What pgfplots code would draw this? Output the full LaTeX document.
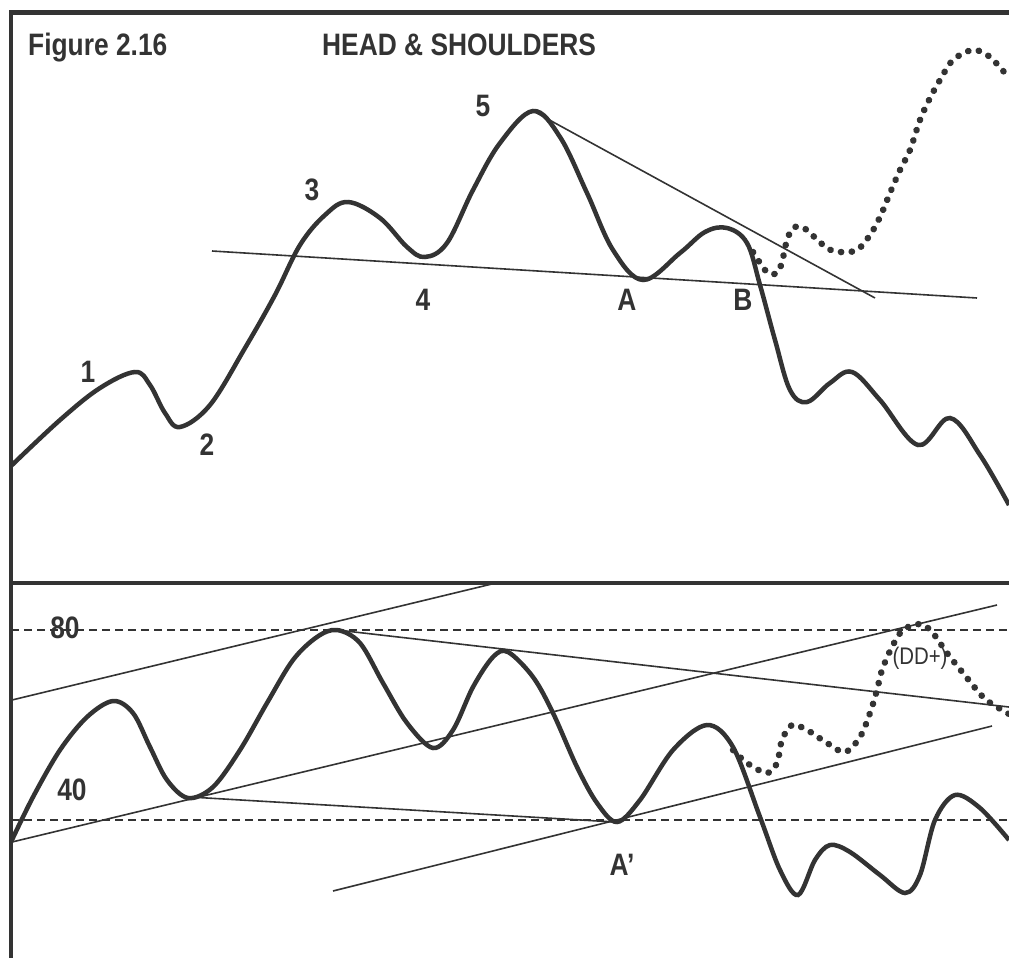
\documentclass[border=0pt]{standalone}
\usepackage{pgfplots}
\pgfplotsset{compat=1.18}
\usepackage{fontspec}
\setmainfont{Liberation Sans}
\newfontfamily\cond[FakeStretch=0.85]{Liberation Sans}
\definecolor{ink}{HTML}{333333}
\begin{document}
\begin{tikzpicture}
\begin{axis}[
  scale only axis, width=1009pt, height=958pt,
  xmin=0, xmax=1009, ymin=0, ymax=958, y dir=reverse,
  axis line style={draw=none}, ticks=none, clip=true,
  every axis plot/.append style={ink},
]
% frame
\addplot[line width=5pt] coordinates {(9,13) (1012,13)};
\addplot[line width=4pt] coordinates {(11,11) (11,962)};
\addplot[line width=4pt] coordinates {(11,583) (1012,583)};
% top panel: trend lines
\addplot[line width=1.6pt] coordinates {(212,251) (977,298)};
\addplot[line width=1.6pt] coordinates {(533,111) (875,298)};
% top panel: price curve
\addplot[line width=4.5pt, smooth, tension=0.6] coordinates {
(11,466) (60,420) (100,388) (135,372) (150,385) (165,413) (180,427)
(210,405) (245,348) (275,295) (300,245) (325,215) (348,202) (380,218) (407,247)
(425,257) (447,243) (473,190) (500,143) (533,111) (560,137) (587,193) (613,250) (643,280)
(680,253) (705,232) (727,228) (747,243) (760,285) (775,340) (790,390) (807,402) (830,383)
(852,372) (880,400) (918,445) (950,418) (980,455) (1009,505)};
% top panel: dotted alternative
\addplot[line width=6.5pt, line cap=round, dash pattern=on 0.3pt off 10.5pt, smooth, tension=0.55] coordinates {
(753,252) (760,263) (768,273) (777,273) (782,262) (787,240) (793,228) (802,227) (810,233)
(827,248) (840,252) (857,250) (870,235) (880,217) (890,193) (900,170) (910,150) (920,120)
(930,98) (940,80) (953,60) (973,50) (990,57) (1009,78)};
% bottom panel: reference levels
\addplot[line width=1.5pt, dash pattern=on 8pt off 5pt] coordinates {(11,630) (1009,630)};
\addplot[line width=1.5pt, dash pattern=on 8pt off 5pt] coordinates {(11,820) (1009,820)};
% bottom panel: trend lines
\addplot[line width=1.6pt] coordinates {(12,700) (496,583)};
\addplot[line width=1.6pt] coordinates {(12,842) (997,605)};
\addplot[line width=1.6pt] coordinates {(333,891) (992,726)};
\addplot[line width=1.6pt] coordinates {(337,630) (1009,707)};
\addplot[line width=1.6pt] coordinates {(190,797) (615,822)};
% bottom panel: oscillator
\addplot[line width=4.5pt, smooth, tension=0.55] coordinates {
(11,842) (33,797) (60,750) (87,717) (113,701) (133,713) (150,747) (167,780) (188,798)
(213,787) (240,750) (267,703) (293,660) (317,637) (337,630) (360,643) (383,683) (407,723)
(433,748) (453,730) (473,687) (493,657) (508,652) (533,677) (553,713) (577,767) (597,803)
(617,822) (640,800) (673,750) (707,725) (733,747) (760,817) (780,870) (798,895)
(815,860) (830,845) (850,852) (880,875) (905,893) (920,875) (935,820) (955,795) (980,808)
(1009,840)};
\addplot[line width=6.5pt, line cap=round, dash pattern=on 0.3pt off 10.5pt, smooth, tension=0.55] coordinates {
(733,750) (747,763) (767,773) (777,763) (782,740) (792,725) (807,730) (827,743) (845,752)
(860,737) (870,713) (877,690) (882,670) (892,647) (903,630) (920,624) (932,632) (947,653)
(963,673) (983,697) (997,707) (1009,714)};
% labels
\begin{scope}[every node/.style={text=ink, font=\cond\fontsize{31}{34}\selectfont\bfseries, inner sep=0pt}]
\node[anchor=base west] at (axis cs:28,56) {Figure 2.16};
\node[anchor=base west] at (axis cs:322,56) {HEAD \& SHOULDERS};
\node at (axis cs:88,372) {1};
\node at (axis cs:207,445) {2};
\node at (axis cs:312,190) {3};
\node at (axis cs:423,300) {4};
\node at (axis cs:483,106) {5};
\node at (axis cs:627,300) {A};
\node at (axis cs:743,300) {B};
\node at (axis cs:65,628) {80};
\node at (axis cs:72,790) {40};
\node at (axis cs:622,865) {A’};
\node[font=\cond\fontsize{24}{27}\selectfont] at (axis cs:920,658) {(DD+)};
\end{scope}
\end{axis}
\end{tikzpicture}
\end{document}
